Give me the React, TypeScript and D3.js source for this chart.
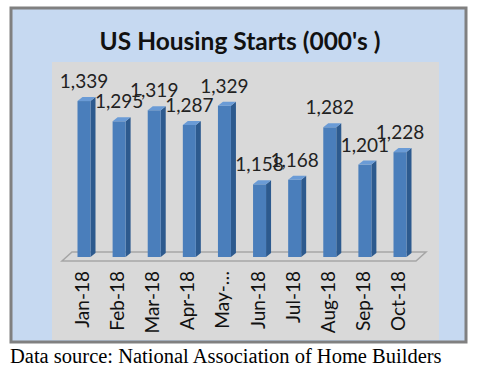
import React from "react";
import * as d3 from "d3";

const categories = ["Jan-18", "Feb-18", "Mar-18", "Apr-18", "May-…", "Jun-18", "Jul-18", "Aug-18", "Sep-18", "Oct-18"];
const values = [1339, 1295, 1319, 1287, 1329, 1158, 1168, 1282, 1201, 1228];
const valueLabels = ["1,339", "1,295", "1,319", "1,287", "1,329", "1,158", "1,168", "1,282", "1,201", "1,228"];

const W = 480, H = 375;
const FONT = "Lato, 'Liberation Sans', sans-serif";

export default function App() {
  const x = d3.scalePoint<string>().domain(categories).range([84, 400]);
  const y = d3.scaleLinear().domain([1000, 1400]).range([257, 73]);
  const bw = 13, dx = 5, dy = 4;
  const floorL = (x(categories[0]) as number) - 22;
  const floorR = (x(categories[categories.length - 1]) as number) + 16;
  const floorY = y(1000);
  return (
    <svg width={W} height={H} style={{ position: "absolute", left: 0, top: 0, background: "#fff" }}>
      <rect x={11} y={8} width={455} height={334} fill="#c6d9f1" stroke="#808080" strokeWidth={3} />
      <rect x={52} y={62} width={387} height={278} fill="#d9d9d9" />
      <text x={240} y={50} textAnchor="middle" fontFamily={FONT} fontWeight="bold" fontSize={24.5} fill="#111">
        US Housing Starts (000's )
      </text>
      <polygon
        points={`${floorL},${floorY + 4} ${floorR},${floorY + 4} ${floorR + 10},${floorY - 5} ${floorL + 10},${floorY - 5}`}
        fill="#d9d9d9"
        stroke="#a6a6a6"
        strokeWidth={1.5}
      />
      {values.map((v, i) => {
        const cx = x(categories[i]) as number;
        const x0 = cx - bw / 2;
        const x1 = cx + bw / 2;
        const top = y(v);
        const bot = y(1000);
        return (
          <g key={i}>
            <polygon points={`${x1},${top} ${x1 + dx},${top - dy} ${x1 + dx},${bot - dy} ${x1},${bot}`} fill="#2d5a8e" />
            <rect x={x0} y={top} width={bw} height={bot - top} fill="#4a7ebb" />
            <polygon points={`${x0},${top} ${x0 + dx},${top - dy} ${x1 + dx},${top - dy} ${x1},${top}`} fill="#6a9bd6" />
          </g>
        );
      })}
      {values.map((v, i) => (
        <text key={"l" + i} x={(x(categories[i]) as number)} y={y(v) - 13} textAnchor="middle" fontFamily={FONT} fontSize={19} fill="#222">
          {valueLabels[i]}
        </text>
      ))}
      {categories.map((c, i) => {
        const cx = x(c) as number;
        return (
          <text key={"c" + i} transform={`translate(${cx + 5},271) rotate(-90)`} textAnchor="end" fontFamily={FONT} fontSize={19} fill="#111">
            {c}
          </text>
        );
      })}
      <text x={10} y={363} fontFamily="'Liberation Serif', 'Times New Roman', serif" fontSize={20.5} fill="#000">
        Data source: National Association of Home Builders
      </text>
    </svg>
  );
}
